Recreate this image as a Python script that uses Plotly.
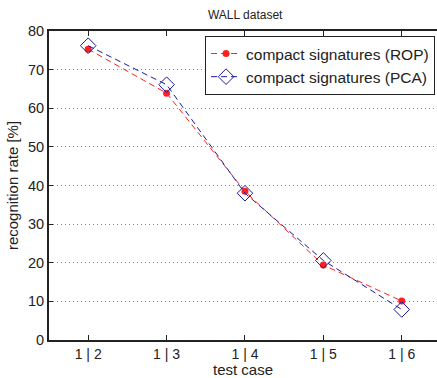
import plotly.graph_objects as go

categories = ["1 | 2", "1 | 3", "1 | 4", "1 | 5", "1 | 6"]
rop = [75.3, 63.9, 38.5, 19.4, 10.1]
pca = [76.2, 66.1, 38.0, 20.6, 7.9]
xpos = [1, 2, 3, 4, 5]

fig = go.Figure()
fig.add_trace(go.Scatter(
    x=xpos, y=rop, mode="lines+markers", name="compact signatures (ROP)",
    line=dict(color="#ff2020", width=1, dash="6px,4px"),
    marker=dict(symbol="circle", size=7, color="#ff2020"),
))
fig.add_trace(go.Scatter(
    x=xpos, y=pca, mode="lines+markers", name="compact signatures (PCA)",
    line=dict(color="#1a1aa0", width=1, dash="6px,4px"),
    marker=dict(symbol="diamond-open", size=12, color="#1a1aa0", line=dict(width=1)),
))

fig.update_layout(
    width=437, height=378,
    margin=dict(l=49, r=0, t=31, b=38),
    paper_bgcolor="white", plot_bgcolor="white",
    font=dict(family="Liberation Sans, Arial, sans-serif", size=14.5, color="#222"),
    title=dict(text="WALL dataset", x=0.561, xanchor="center", y=1 - 15 / 378, yanchor="middle",
               font=dict(size=12, color="#222")),
    showlegend=True,
    legend=dict(x=0.995, xanchor="right", y=0.984, yanchor="top",
                bordercolor="#222", borderwidth=1, bgcolor="white",
                font=dict(size=15.5, color="#222"), tracegroupgap=0, itemwidth=30),
)
fig.update_xaxes(
    range=[0.5, 5.45], tickmode="array", tickvals=xpos, ticktext=categories,
    ticks="inside", ticklen=5, tickcolor="#222", showline=True, linecolor="#222", linewidth=2,
    mirror="ticks", showgrid=False, zeroline=False, tickfont=dict(size=14),
    title=dict(text="test case", standoff=0, font=dict(size=15)),
)
fig.update_yaxes(
    range=[0, 80], dtick=10, ticks="inside", ticklen=4, tickcolor="#222",
    showline=True, linecolor="#222", linewidth=2, mirror=False, tickfont=dict(size=14.5),
    showgrid=True, gridcolor="#888", griddash="1px,3px", gridwidth=1, zeroline=False,
    title=dict(text="recognition rate [%]", standoff=6, font=dict(size=15)),
)
fig.write_html("out.html", config={"displayModeBar": False},
               post_script="document.body.style.margin='0';document.body.style.overflow='hidden';")
